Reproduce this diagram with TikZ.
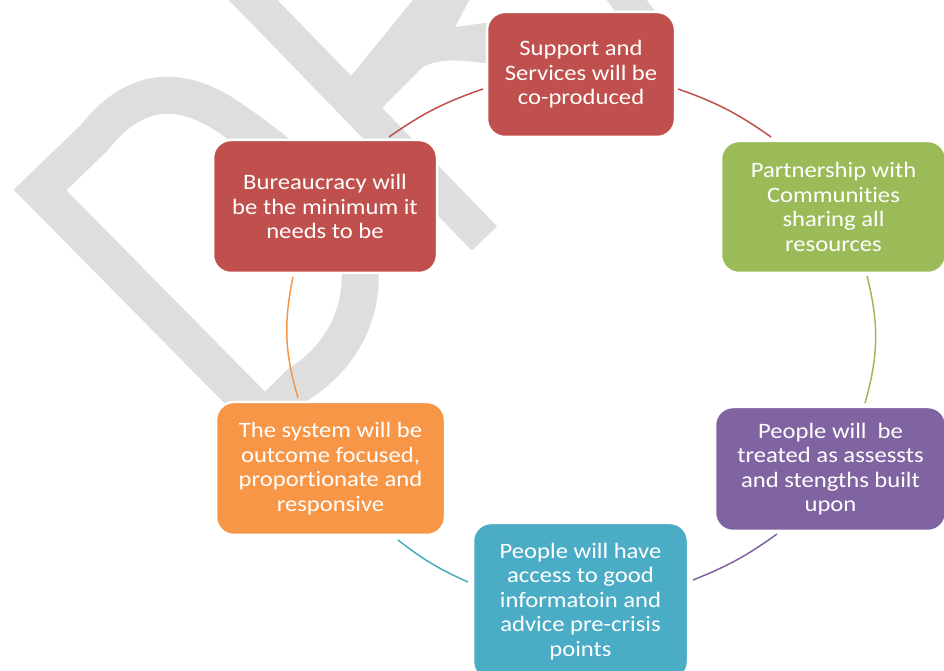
\documentclass[tikz,border=0pt]{standalone}
\usepackage{fontspec}
\setmainfont{Carlito}[FakeStretch=1.12, Ligatures=NoCommon]
\usetikzlibrary{calc}
\definecolor{cred}{HTML}{C0504D}
\definecolor{cgreen}{HTML}{9BBB59}
\definecolor{cpurple}{HTML}{8064A2}
\definecolor{cblue}{HTML}{4BACC6}
\definecolor{corange}{HTML}{F79646}
\definecolor{wm}{HTML}{DEDEDE}
\tikzset{
  box/.style={rounded corners=18pt, draw=white, line width=2.5pt, text=white,
    align=center, inner sep=0pt, outer sep=0pt,
    font=\fontsize{22}{24.5}\selectfont},
  link/.style={line width=1.5pt},
  wmark/.style={draw=wm, line width=37pt, line join=miter},
}
\begin{document}
\begin{tikzpicture}[x=1pt,y=1pt]
\useasboundingbox (0,0) rectangle (944,671);
\clip (0,0) rectangle (944,671);
\fill[white] (0,0) rectangle (944,671);
% watermark
\draw[wmark] (40,481) -- (95,534) .. controls (130,579) and (175,591) .. (230,553)
  .. controls (290,512) and (365,451) .. (360,386)
  .. controls (357,341) and (330,306) .. (300,288) -- (265,253) -- cycle;
\draw[wmark, line width=35pt] (225,700) -- (484.5,432.5);
\fill[wm] (342,584) -- (417,676) -- (472,676) -- (455,644) -- (485,648) -- (560,652)
  -- (560,609) -- (483,608) .. controls (460,611) and (440,613) .. (423,604)
  -- (382,563) -- (372,551) -- cycle;
\draw[wmark, line width=32pt] (610,693) -- (650,640);
% nodes
\node[box, fill=cred, minimum width=188pt, minimum height=125pt] (sup) at (581,596.5)
  {Support and\\Services will be\\co-produced};
\node[box, fill=cgreen, minimum width=225pt, minimum height=132pt] (par) at (833.5,464)
  {Partnership with\\Communities\\sharing all\\resources};
\node[box, fill=cpurple, minimum width=231pt, minimum height=124pt] (tre) at (830.5,202)
  {People will\ \ be\\treated as assessts\\and stengths built\\upon};
\node[box, fill=cblue, minimum width=215pt, minimum height=157pt] (acc) at (580.5,69.5)
  {People will have\\access to good\\informatoin and\\advice pre-crisis\\points};
\node[box, fill=corange, minimum width=229pt, minimum height=133pt] (sys) at (330.5,202.5)
  {The system will be\\outcome focused,\\proportionate and\\responsive};
\node[box, fill=cred, minimum width=224pt, minimum height=133pt] (bur) at (325,464.5)
  {Bureaucracy will\\be the minimum it\\needs to be};
% connectors
\draw[link, cred] ($(sup.east)+(3,-14.5)$) to[bend left=8] ($(par.north)+(-62.5,4)$);
\draw[link, cgreen] ($(par.south)+(33.5,-3)$) to[bend left=15] ($(tre.north)+(34.5,4)$);
\draw[link, cpurple] ($(tre.south)+(-53.5,-3)$) to[bend left=7] ($(acc.east)+(5,21.5)$);
\draw[link, cblue] ($(acc.west)+(-5,19.5)$) to[bend left=7] ($(sys.south)+(67.5,-5)$);
\draw[link, corange] ($(sys.north)+(-32.5,4)$) to[bend left=14] ($(bur.south)+(-32,-4)$);
\draw[link, cred] ($(bur.north)+(64,3)$) to[bend left=8] ($(sup.west)+(-4,-14.5)$);
\end{tikzpicture}
\end{document}
